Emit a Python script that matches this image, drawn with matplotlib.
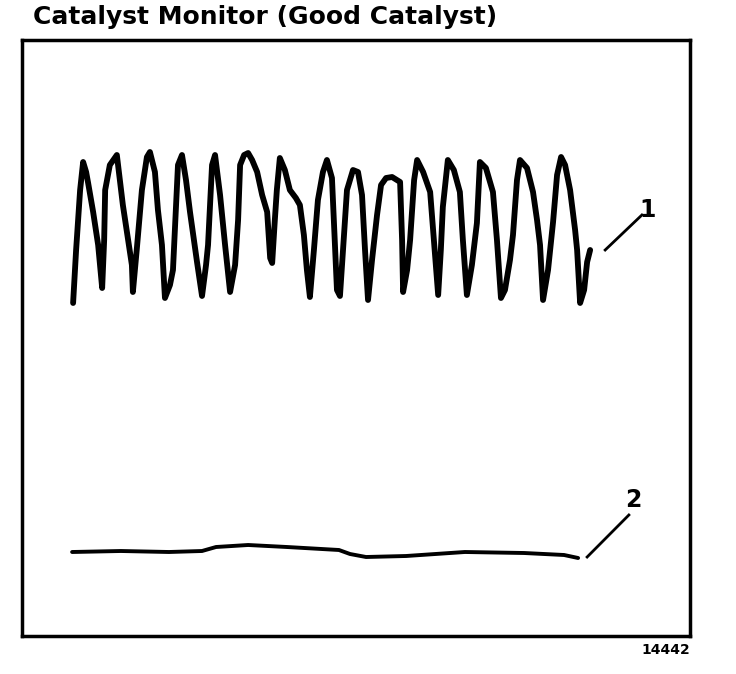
import matplotlib
matplotlib.use("Agg")
import matplotlib.pyplot as plt

# upstream O2 sensor (trace 1): time in s, signal in mV
t_front = [1.53, 1.62, 1.74, 1.83, 1.92, 1.98, 2.13, 2.28, 2.40, 2.46, 2.49, 2.63, 2.84, 2.93,
           3.02, 3.17, 3.29, 3.32, 3.44, 3.59, 3.74, 3.83, 3.98, 4.07, 4.19, 4.28, 4.43, 4.52,
           4.67, 4.79, 4.91, 5.03, 5.24, 5.39, 5.51, 5.57, 5.69, 5.78, 5.93, 6.08, 6.23, 6.38,
           6.47, 6.53, 6.65, 6.77, 6.89, 7.04, 7.19, 7.34, 7.43, 7.49, 7.57, 7.63, 7.72, 7.87,
           8.02, 8.20, 8.32, 8.44, 8.53, 8.62, 8.74, 8.86, 9.01, 9.13, 9.28, 9.37, 9.43, 9.52,
           9.61, 9.73, 9.91, 10.06, 10.18, 10.27, 10.36, 10.48, 10.63, 10.75, 10.90, 11.08,
           11.32, 11.38, 11.41, 11.53, 11.62, 11.74, 11.83, 12.01, 12.22, 12.37, 12.46, 12.54,
           12.60, 12.75, 12.93, 13.11, 13.20, 13.32, 13.47, 13.62, 13.71, 13.89, 14.10, 14.22,
           14.34, 14.46, 14.61, 14.70, 14.82, 14.91, 15.12, 15.30, 15.42, 15.51, 15.60, 15.75,
           15.90, 16.02, 16.14, 16.26, 16.41, 16.56, 16.62, 16.71, 16.83, 16.92, 17.01]
mv_front = [666, 772, 892, 948, 928, 906, 848, 782, 696, 792, 892, 942, 962, 912,
            862, 796, 742, 688, 776, 892, 958, 968, 928, 852, 782, 676, 702, 732,
            942, 962, 912, 848, 748, 680, 742, 782, 942, 962, 882, 782, 688, 742,
            832, 942, 962, 966, 952, 928, 882, 848, 756, 746, 832, 892, 956, 932,
            892, 876, 862, 802, 732, 678, 772, 872, 928, 952, 916, 782, 692, 680,
            772, 892, 932, 928, 882, 772, 672, 752, 842, 902, 916, 918,
            908, 792, 688, 732, 792, 912, 952, 928, 888, 758, 682, 772,
            858, 952, 932, 888, 792, 682, 742, 826, 948, 936, 888, 792,
            676, 692, 752, 802, 912, 952, 936, 888, 832, 782, 672, 732,
            828, 922, 958, 942, 892, 812, 772, 666, 692, 748, 772]

# downstream O2 sensor (trace 2)
t_rear = [1.50, 2.96, 4.40, 5.39, 5.81, 6.77, 7.93, 9.49, 9.82, 10.30, 11.50, 13.26, 15.03, 16.23, 16.65]
mv_rear = [168, 170, 168, 170, 178, 182, 178, 172, 164, 158, 160, 168, 166, 162, 156]

title = "Catalyst Monitor (Good Catalyst)"
fig_id = "14442"

fig = plt.figure(figsize=(7.36, 6.74), dpi=100)
ax = fig.add_axes([22 / 736, 38 / 674, 668 / 736, 596 / 674])
ax.set_xlim(0, 20)
ax.set_ylim(0, 1192)
ax.set_xticks([])
ax.set_yticks([])
for s in ax.spines.values():
    s.set_linewidth(2.5)
    s.set_color("black")

ax.plot(t_front, mv_front, color="black", lw=4.2, solid_joinstyle="round", solid_capstyle="round")
ax.plot(t_rear, mv_rear, color="black", lw=2.8, solid_joinstyle="round", solid_capstyle="round")

# callouts
ax.plot([17.46, 18.56], [772, 842], color="black", lw=2)
ax.text(18.74, 852, "1", fontsize=17, fontweight="bold", family="DejaVu Sans",
        ha="center", va="center")
ax.plot([16.92, 18.17], [158, 242], color="black", lw=2)
ax.text(18.29, 272, "2", fontsize=17, fontweight="bold", family="DejaVu Sans",
        ha="center", va="center")

fig.text(33 / 736, 1 - 24 / 674, title, fontsize=18, fontweight="bold",
         family="DejaVu Sans", ha="left", va="baseline")
fig.text(690 / 736, 1 - 654 / 674, fig_id, fontsize=10, fontweight="bold",
         family="DejaVu Sans", ha="right", va="baseline")

fig.savefig("out.png", dpi=100)
